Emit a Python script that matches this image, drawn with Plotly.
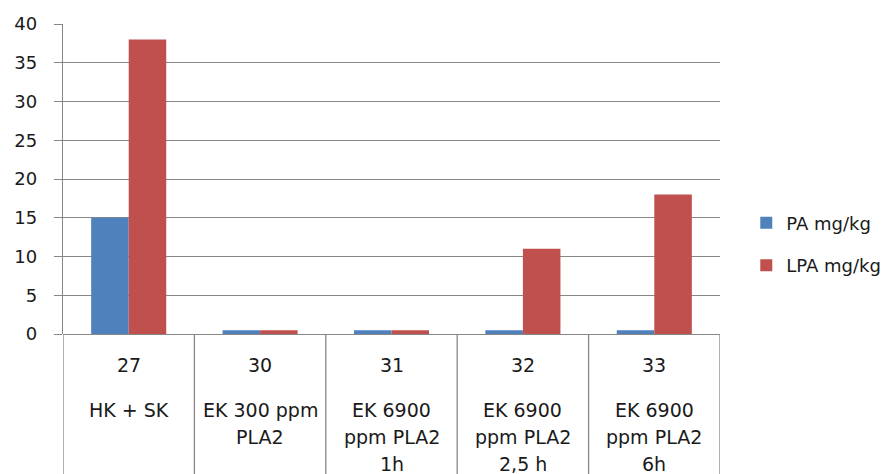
import plotly.graph_objects as go

# Sample groups: number and treatment description (one entry per text line)
sample_ids = ["27", "30", "31", "32", "33"]
treatments = [["HK + SK"],
              ["EK 300 ppm", "PLA2"],
              ["EK 6900", "ppm PLA2", "1h"],
              ["EK 6900", "ppm PLA2", "2,5 h"],
              ["EK 6900", "ppm PLA2", "6h"]]

# Measured contents (mg/kg)
pa_values = [15, 0.5, 0.5, 0.5, 0.5]
lpa_values = [38, 0.5, 0.5, 11, 18]

y_ticks = [0, 5, 10, 15, 20, 25, 30, 35, 40]

GRID = "#878787"
TEXT = "#1a1a1a"
FONT = "DejaVu Sans"
PLOT_H = 310  # plot area height in px

x_pos = list(range(len(sample_ids)))

fig = go.Figure()
fig.add_trace(go.Bar(x=x_pos, y=pa_values, name="PA mg/kg",
                     marker=dict(color="#4F81BD", line=dict(width=0)),
                     legendgroup="pa"))
fig.add_trace(go.Bar(x=x_pos, y=lpa_values, name="LPA mg/kg",
                     marker=dict(color="#C0504D", line=dict(width=0)),
                     legendgroup="lpa"))

# Category labels below the axis: id on the first row, treatment lines below
for i, (sid, lines) in enumerate(zip(sample_ids, treatments)):
    fig.add_annotation(x=i, y=-31 / PLOT_H, xref="x", yref="paper", text=sid,
                       showarrow=False, yanchor="middle",
                       font=dict(family=FONT, size=19, color=TEXT))
    for k, line in enumerate(lines):
        fig.add_annotation(x=i, y=-(76 + 27 * k) / PLOT_H, xref="x",
                           yref="paper", text=line, showarrow=False,
                           yanchor="middle",
                           font=dict(family=FONT, size=19, color=TEXT))

# Vertical dividers between the category columns
for b in [i - 0.5 for i in range(len(sample_ids) + 1)]:
    fig.add_shape(type="line", xref="x", yref="paper", x0=b, x1=b,
                  y0=0, y1=-0.47, line=dict(color=GRID, width=1.3))

fig.update_layout(
    width=892, height=474,
    margin=dict(l=63, r=172, t=24, b=140, autoexpand=False),
    paper_bgcolor="white", plot_bgcolor="white",
    barmode="group", bargap=1.5 / 3.5, bargroupgap=0,
    font=dict(family=FONT, size=18, color=TEXT),
    showlegend=True,
    legend=dict(x=1.04, y=0.29, xanchor="left", yanchor="middle",
                font=dict(family=FONT, size=18, color=TEXT),
                tracegroupgap=16, itemwidth=30, bgcolor="rgba(0,0,0,0)"),
    xaxis=dict(range=[-0.5, len(sample_ids) - 0.5], showticklabels=False,
               showgrid=False, zeroline=False, showline=False, ticks=""),
    yaxis=dict(range=[0, 40], tickvals=y_ticks, showgrid=True,
               gridcolor=GRID, gridwidth=1.3, zeroline=True,
               zerolinecolor=GRID, zerolinewidth=1.3,
               showline=True, linecolor=GRID, linewidth=1.3,
               ticks="outside", ticklen=8, tickcolor=GRID, tickwidth=1.3,
               ticklabelstandoff=13,
               tickfont=dict(family=FONT, size=18, color=TEXT)),
)

fig.write_html("out.html")
